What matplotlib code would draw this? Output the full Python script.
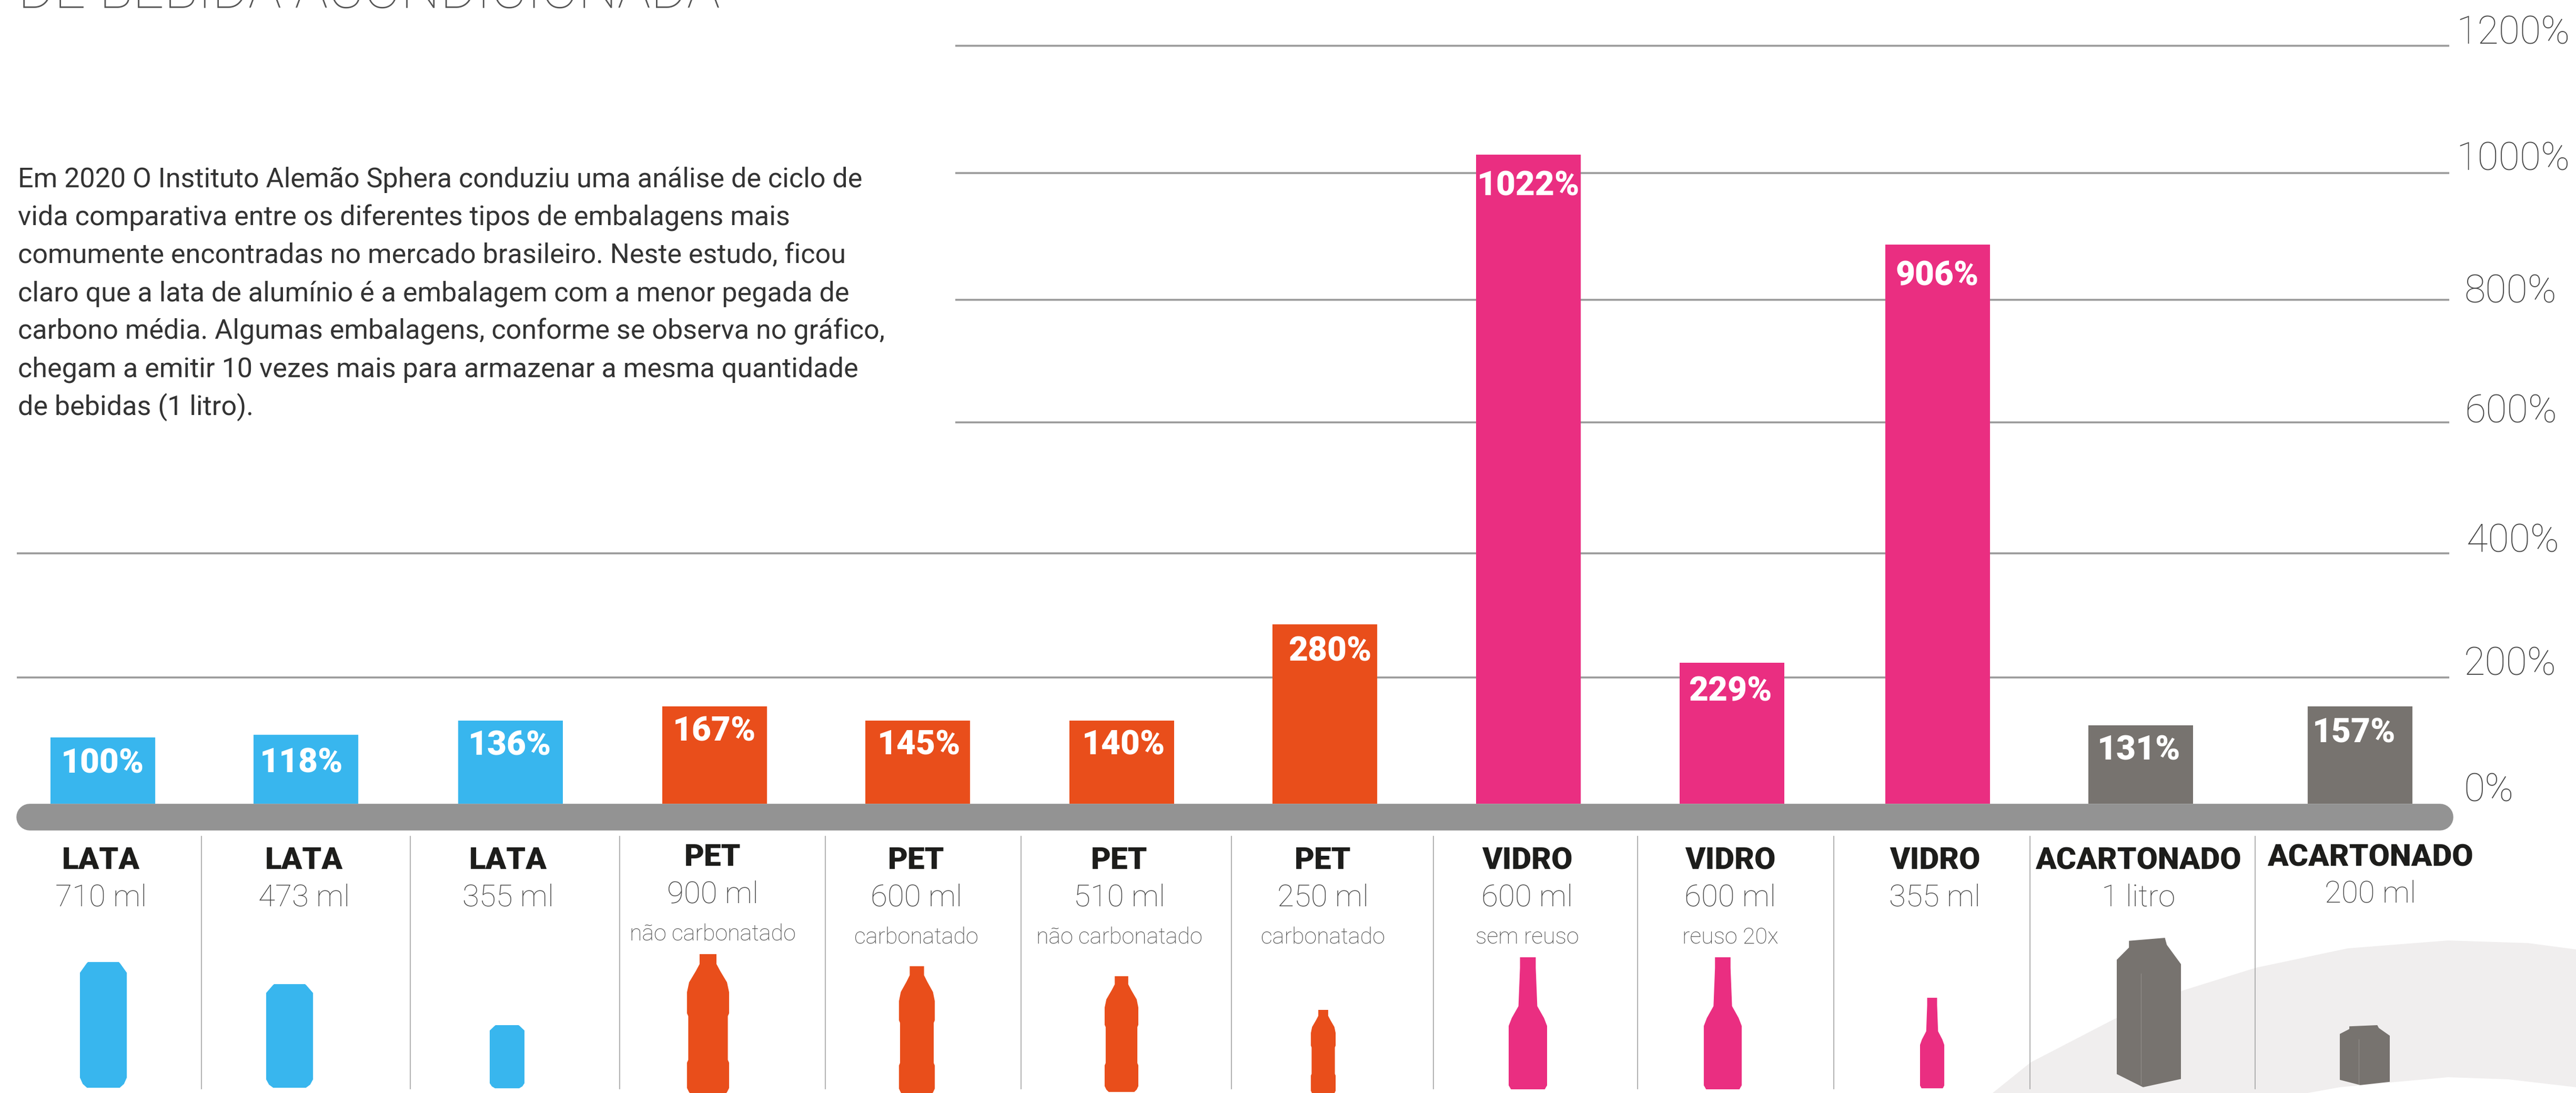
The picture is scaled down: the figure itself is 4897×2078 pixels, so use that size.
import matplotlib
matplotlib.use("Agg")
import matplotlib.pyplot as plt
from matplotlib.patches import Polygon

W, H = 4897, 2078
ZERO_PX = 1528
PX_PER_PCT = 1.2

# values
bar_heights = [105, 109, 132, 154, 132, 132, 284, 1028, 223, 886, 124, 154]
bar_labels = ["100%", "118%", "136%", "167%", "145%", "140%", "280%", "1022%", "229%", "906%", "131%", "157%"]
materials = ["LATA", "LATA", "LATA", "PET", "PET", "PET", "PET", "VIDRO", "VIDRO", "VIDRO", "ACARTONADO", "ACARTONADO"]
sizes = ["710 ml", "473 ml", "355 ml", "900 ml", "600 ml", "510 ml", "250 ml", "600 ml", "600 ml", "355 ml", "1 litro", "200 ml"]
notes = ["", "", "", "não carbonatado", "carbonatado", "não carbonatado", "carbonatado", "sem reuso", "reuso 20x", "", "", ""]
tick_labels = ["0%", "200%", "400%", "600%", "800%", "1000%", "1200%"]
grid_levels = [200, 397, 604, 798, 999, 1201]

title = "DE BEBIDA ACONDICIONADA"
paragraph = [
    "Em 2020 O Instituto Alemão Sphera conduziu uma análise de ciclo de",
    "vida comparativa entre os diferentes tipos de embalagens mais",
    "comumente encontradas no mercado brasileiro. Neste estudo, ficou",
    "claro que a lata de alumínio é a embalagem com a menor pegada de",
    "carbono média. Algumas embalagens, conforme se observa no gráfico,",
    "chegam a emitir 10 vezes mais para armazenar a mesma quantidade",
    "de bebidas (1 litro).",
]

# layout, in pixels of the output
bar_x = [195, 581, 970, 1358, 1744, 2132, 2518, 2905, 3292, 3683, 4069, 4486]
BAR_W = 199
label_x = [195, 573, 969, 1358, 1747, 2136, 2528, 2905, 3289, 3683, 4066, 4475]
label_drop = [50, 53, 48, 47, 47, 47, 51, 59, 54, 60, 47, 50]
text_x = [192, 578, 966, 1355, 1742, 2128, 2515, 2903, 3289, 3678, 4065, 4506]
name_y = [1637, 1637, 1637, 1631, 1637, 1637, 1637, 1637, 1637, 1637, 1637, 1631]
size_y = [1707, 1707, 1707, 1701, 1707, 1707, 1707, 1707, 1707, 1707, 1707, 1700]
note_y = [0, 0, 0, 1777, 1782, 1782, 1782, 1782, 1782, 0, 0, 0]
sep_x = [383, 780, 1178, 1569, 1941, 2341, 2725, 3113, 3486, 3859, 4287]
tick_x = [4684, 4684, 4689, 4685, 4685, 4669, 4669]
tick_base = [1524, 1284, 1049, 804, 576, 324, 84]

BLUE, ORANGE, PINK, GREY = "#38b6ee", "#e94e1b", "#ea2e81", "#77736f"
bar_colors = [BLUE] * 3 + [ORANGE] * 4 + [PINK] * 3 + [GREY] * 2

# outline of the icons, as (fraction of height, half width)
can_shape = [(0, .33), (.012, .36), (.085, .5), (.92, .5), (.97, .44), (1, .35)]
pet_shape = [(0, .2), (.07, .2), (.12, .29), (.2, .45), (.27, .5), (.42, .5), (.44, .47),
             (.75, .47), (.77, .5), (.95, .5), (.98, .45), (1, .38)]
glass_shape = [(0, .205), (.08, .205), (.37, .245), (.46, .42), (.52, .5), (.97, .5), (1, .44)]
carton_shape = [(.19, .02), (.75, 0), (.78, .047), (1, .176), (1, .945), (.41, 1), (0, .912), (0, .147), (.19, .065)]
# left, right, top, bottom
icon_boxes = [(152, 241, 1829, 2068), (506, 595, 1871, 2068), (931, 997, 1949, 2069),
              (1306, 1386, 1814, 2082), (1709, 1777, 1837, 2082), (2100, 2164, 1856, 2076), (2492, 2539, 1920, 2082),
              (2868, 2941, 1820, 2071), (3239, 3311, 1820, 2071), (3650, 3696, 1897, 2069),
              (4024, 4146, 1783, 2067), (4448, 4543, 1949, 2063)]
icon_kinds = ["can"] * 3 + ["pet"] * 4 + ["glass"] * 3 + ["carton"] * 2
swoosh_outer = [(3788, 2078), (3860, 2020), (4020, 1937), (4150, 1883), (4288, 1840), (4463, 1803),
                (4654, 1788), (4806, 1793), (4897, 1805)]
swoosh_inner = [(4897, 2067), (4768, 2052), (4654, 2048), (4543, 2058), (4448, 2067), (4387, 2078)]

plt.rcParams["font.family"] = ["Roboto", "DejaVu Sans"]
fig = plt.figure(figsize=(W / 100, H / 100), dpi=100, facecolor="white")

# pixel layer for text and icons
px = fig.add_axes([0, 0, 1, 1], zorder=1)
px.set_xlim(0, W)
px.set_ylim(H, 0)
px.axis("off")

# chart layer, real percent scale on y
ax = fig.add_axes([0, 0, 1, 1], zorder=2)
ax.set_xlim(0, W)
ax.set_ylim((ZERO_PX - H) / PX_PER_PCT, ZERO_PX / PX_PER_PCT)
ax.axis("off")
ax.patch.set_alpha(0)

px.add_patch(Polygon(swoosh_outer + swoosh_inner, closed=True, fc="#f0eeee", ec="none", zorder=0))

for level in grid_levels:
    start = 1816 if level > 500 else 32
    ax.plot([start, 4656], [level, level], color="#9a9a9a", lw=2.6, zorder=1, solid_capstyle="butt")

ax.bar(bar_x, bar_heights, width=BAR_W, color=bar_colors, zorder=2)
for x, h, drop, lab in zip(label_x, bar_heights, label_drop, bar_labels):
    ax.annotate(lab, (x, h), xytext=(0, -drop * 0.72), textcoords="offset points", ha="center", va="center",
                color="white", fontsize=46, fontweight="black", zorder=3)

# thick rounded axis
ax.plot([56, 4638], [-20.5, -20.5], color="#939393", lw=36.5, solid_capstyle="round", zorder=4)

for x in sep_x:
    px.plot([x, x], [1590, 2070], color="#a3a3a3", lw=1.2, zorder=1)

for i in range(len(materials)):
    px.text(text_x[i], name_y[i], materials[i], ha="center", va="center", fontsize=42, fontweight="black", color="#1d1d1b")
    px.text(text_x[i], size_y[i], sizes[i], ha="center", va="center", fontsize=42, fontweight="light", color="#484848")
    if notes[i]:
        px.text(text_x[i], note_y[i], notes[i], ha="center", va="center", fontsize=31, fontweight="light", color="#484848")

for lab, x, y in zip(tick_labels, tick_x, tick_base):
    px.text(x, y, lab, ha="left", va="baseline", fontsize=53, fontweight="light", color="#484848")

px.text(34, 15, title, ha="left", va="baseline", fontsize=76, fontweight="light", color="#555555")
for i, line in enumerate(paragraph):
    px.text(34, 356 + i * 72.2, line, ha="left", va="baseline", fontsize=37.5, color="#333333")


def profile_points(shape, box):
    left, right, top, bottom = box
    mid, w, h = (left + right) / 2, right - left, bottom - top
    rgt = [(mid + hw * w, top + f * h) for f, hw in shape]
    lft = [(mid - hw * w, top + f * h) for f, hw in reversed(shape)]
    return rgt + lft


shapes = {"can": can_shape, "pet": pet_shape, "glass": glass_shape}
for kind, box, col in zip(icon_kinds, icon_boxes, bar_colors):
    if kind == "carton":
        left, right, top, bottom = box
        pts = [(left + a * (right - left), top + b * (bottom - top)) for a, b in carton_shape]
        px.add_patch(Polygon(pts, closed=True, fc=col, ec="none", zorder=2))
        fold = left + .38 * (right - left)
        px.plot([fold, fold], [top + .24 * (bottom - top), top + .98 * (bottom - top)], color="#8d8985", lw=1, zorder=3)
    else:
        px.add_patch(Polygon(profile_points(shapes[kind], box), closed=True, fc=col, ec="none", zorder=2))

fig.savefig("out.png", dpi=100)
